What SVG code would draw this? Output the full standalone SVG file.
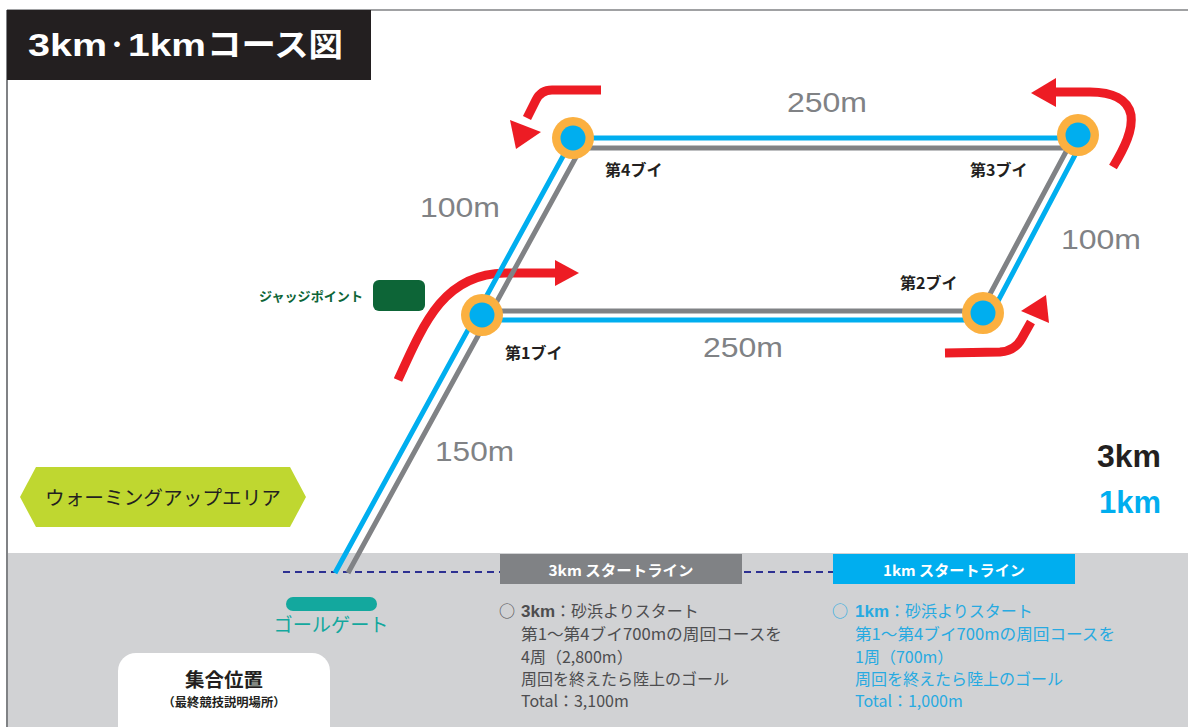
<svg xmlns="http://www.w3.org/2000/svg" width="1188" height="727" viewBox="0 0 1188 727">
<defs>
<style>
.jp{font-family:"Noto Sans CJK JP","Liberation Sans",sans-serif}
.lat{font-family:"Liberation Sans","Noto Sans CJK JP",sans-serif}
.dist{font-family:"Liberation Sans","Noto Sans CJK JP",sans-serif;font-size:28px;fill:#808285}
.buoyl{font-family:"Noto Sans CJK JP",sans-serif;font-size:16px;font-weight:bold;fill:#231f20}
.red{fill:none;stroke:#ed1c24;stroke-width:9}
.redh{fill:#ed1c24}
.blue{fill:none;stroke:#00aeef;stroke-width:5;stroke-linejoin:miter}
.gray{fill:none;stroke:#808285;stroke-width:5;stroke-linejoin:miter}
.bo{fill:#fbb040}
.bi{fill:#00aeef}
.body3{font-family:"Noto Sans CJK JP",sans-serif;font-size:16px;fill:#4d4d4f}
.body1{font-family:"Noto Sans CJK JP",sans-serif;font-size:16px;fill:#27aae1}
</style>
</defs>
<rect x="0" y="0" width="1188" height="727" fill="#ffffff"/>
<g id="background">
<rect x="8" y="553" width="1180" height="174" fill="#d1d2d4"/>
<line x1="7" y1="10" x2="1188" y2="10" stroke="#808285" stroke-width="1.5"/>
<line x1="7" y1="10" x2="7" y2="727" stroke="#808285" stroke-width="2"/>
</g>
<g id="title">
<rect x="7" y="10" width="364" height="70" fill="#231f20"/>
<text y="56" class="lat" font-size="32" font-weight="bold" fill="#ffffff"><tspan x="28" textLength="79" lengthAdjust="spacingAndGlyphs">3km</tspan><tspan x="128" textLength="78" lengthAdjust="spacingAndGlyphs">1km</tspan><tspan x="207" textLength="136" lengthAdjust="spacingAndGlyphs">コース図</tspan></text>
<text x="106" y="52" class="jp" font-size="22" font-weight="bold" fill="#ffffff">・</text>
</g>
<g id="start-dashes">
<line x1="283" y1="572" x2="500" y2="572" stroke="#2e3192" stroke-width="2" stroke-dasharray="7 5"/>
<line x1="744" y1="572" x2="833" y2="572" stroke="#2e3192" stroke-width="2" stroke-dasharray="7 5"/>
</g>
<g id="connectors">
<g id="arrows">
<path class="red" d="M601,90 L552,90 Q541,90 536,100 L527,118"/>
<polygon class="redh" points="516,149 510,120 541,132"/>
<path class="red" d="M1113,167 C1125,147 1133,130 1131,115 C1128,99 1112,92 1090,92 L1054,92"/>
<polygon class="redh" points="1031,93 1056,78 1056,107"/>
<path class="red" d="M945,353 L1000,352 Q1015,351 1022,338 L1031,322"/>
<polygon class="redh" points="1046,295 1021,311 1049,323"/>
<path class="red" d="M398,380 C425,320 445,274 505,273 L556,273"/>
<polygon class="redh" points="579,273 555,260 555,286"/>
</g>
<g id="course">
<polyline class="gray" points="348,573 581,148 1068,148 981,311 490,311"/>
<polyline class="blue" points="335,573 573,138 1084,138 988,320 474,320"/>
</g>
</g>
<g id="buoy1"><circle class="bo" cx="482" cy="315" r="21"/><circle class="bi" cx="482" cy="315" r="12.5"/></g>
<g id="buoy2"><circle class="bo" cx="983" cy="313" r="21"/><circle class="bi" cx="983" cy="313" r="12.5"/></g>
<g id="buoy3"><circle class="bo" cx="1078" cy="135" r="21"/><circle class="bi" cx="1078" cy="135" r="12.5"/></g>
<g id="buoy4"><circle class="bo" cx="573" cy="138" r="21"/><circle class="bi" cx="573" cy="138" r="12.5"/></g>
<g id="buoy-labels">
<text class="buoyl" x="605" y="176">第4ブイ</text>
<text class="buoyl" x="970" y="176">第3ブイ</text>
<text class="buoyl" x="900" y="289">第2ブイ</text>
<text class="buoyl" x="505" y="359">第1ブイ</text>
</g>
<g id="distances">
<text class="dist" x="787" y="112" textLength="80" lengthAdjust="spacingAndGlyphs">250m</text>
<text class="dist" x="420" y="217" textLength="80" lengthAdjust="spacingAndGlyphs">100m</text>
<text class="dist" x="1061" y="249" textLength="80" lengthAdjust="spacingAndGlyphs">100m</text>
<text class="dist" x="703" y="357" textLength="80" lengthAdjust="spacingAndGlyphs">250m</text>
<text class="dist" x="435" y="461" textLength="79" lengthAdjust="spacingAndGlyphs">150m</text>
</g>
<g id="judge-point">
<rect x="373" y="280" width="52" height="31" rx="6" fill="#0d6537"/>
<text x="259" y="301" class="jp" font-size="13" font-weight="bold" fill="#0d6537" textLength="104" lengthAdjust="spacingAndGlyphs">ジャッジポイント</text>
</g>
<g id="legend">
<text x="1097" y="467" class="lat" font-size="31" font-weight="bold" fill="#231f20" textLength="64" lengthAdjust="spacingAndGlyphs">3km</text>
<text x="1099" y="513" class="lat" font-size="31" font-weight="bold" fill="#00aeef" textLength="62" lengthAdjust="spacingAndGlyphs">1km</text>
</g>
<g id="warmup-area">
<polygon points="20,497 36,467 290,467 306,497 290,527 36,527" fill="#bfd730"/>
<text x="163" y="505" class="jp" font-size="19.5" fill="#231f20" text-anchor="middle" textLength="236" lengthAdjust="spacingAndGlyphs">ウォーミングアップエリア</text>
</g>
<g id="goal-gate">
<rect x="286" y="597" width="91" height="14" rx="7" fill="#13a89e"/>
<text x="331" y="632" class="jp" font-size="19" fill="#13a89e" text-anchor="middle" textLength="115" lengthAdjust="spacingAndGlyphs">ゴールゲート</text>
</g>
<g id="assembly">
<rect x="118" y="653" width="212" height="100" rx="18" fill="#ffffff"/>
<text x="224" y="687" class="jp" font-size="19" font-weight="bold" fill="#231f20" text-anchor="middle" textLength="78" lengthAdjust="spacingAndGlyphs">集合位置</text>
<text x="224" y="707" class="jp" font-size="12" font-weight="bold" fill="#231f20" text-anchor="middle" textLength="123" lengthAdjust="spacingAndGlyphs">（最終競技説明場所）</text>
</g>
<g id="start-3km">
<rect x="500" y="554" width="242" height="30" fill="#808285"/>
<text x="621" y="576" class="jp" font-size="14.5" font-weight="bold" fill="#ffffff" text-anchor="middle" textLength="145" lengthAdjust="spacingAndGlyphs">3km スタートライン</text>
</g>
<g id="start-1km">
<rect x="833" y="554" width="242" height="30" fill="#00aeef"/>
<text x="954" y="576" class="jp" font-size="14.5" font-weight="bold" fill="#ffffff" text-anchor="middle" textLength="142" lengthAdjust="spacingAndGlyphs">1km スタートライン</text>
</g>
<g id="desc-3km">
<text class="body3" x="499" y="617">○</text>
<text class="body3" x="521" y="617"><tspan font-weight="bold" class="lat" font-size="17">3km</tspan>：砂浜よりスタート</text>
<text class="body3" x="521" y="640" textLength="261" lengthAdjust="spacingAndGlyphs">第1～第4ブイ700mの周回コースを</text>
<text class="body3" x="521" y="663">4周（2,800m）</text>
<text class="body3" x="521" y="685">周回を終えたら陸上のゴール</text>
<text class="body3" x="521" y="707">Total：3,100m</text>
</g>
<g id="desc-1km">
<text class="body1" x="832" y="617">○</text>
<text class="body1" x="855" y="617"><tspan font-weight="bold" class="lat" font-size="17">1km</tspan>：砂浜よりスタート</text>
<text class="body1" x="855" y="640" textLength="260" lengthAdjust="spacingAndGlyphs">第1～第4ブイ700mの周回コースを</text>
<text class="body1" x="855" y="663">1周（700m）</text>
<text class="body1" x="855" y="685">周回を終えたら陸上のゴール</text>
<text class="body1" x="855" y="707">Total：1,000m</text>
</g>
</svg>
